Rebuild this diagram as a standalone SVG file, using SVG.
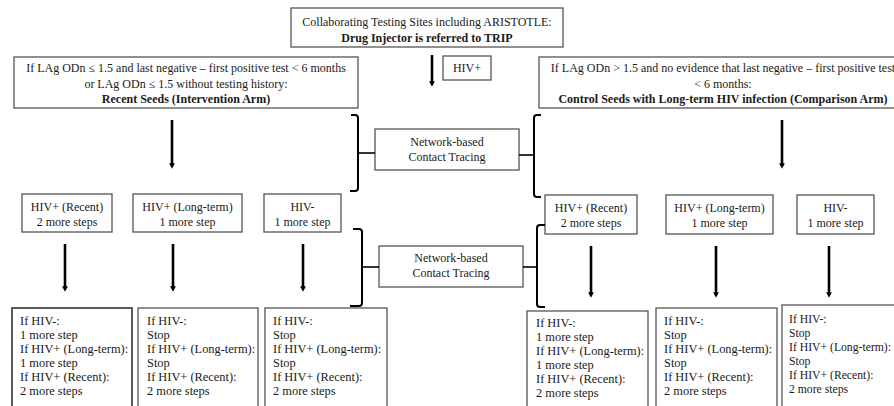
<svg xmlns="http://www.w3.org/2000/svg" width="894" height="406" viewBox="0 0 894 406">
<defs>
<marker id="ah" viewBox="0 0 6 6" refX="3" refY="3" markerWidth="2.2" markerHeight="2.2" orient="auto"><path d="M0,0 L6,3 L0,6 z" fill="#000"/></marker>
<style>
.box{fill:#fff;stroke:#555;stroke-width:1.3}
.t{font-family:"Liberation Serif","Times New Roman",serif;font-size:12px;fill:#1a1a1a}
.c{text-anchor:middle}
.b{font-weight:bold}
.s{font-size:12.4px}
.n{font-size:11.7px}
.arr{stroke:#000;stroke-width:2.6;fill:none;marker-end:url(#ah)}
.br{stroke:#000;stroke-width:2;fill:none}
.tk{stroke:#000;stroke-width:1.6;fill:none}
</style>
</defs>
<rect width="894" height="406" fill="#fff"/>
<g id="top">
<rect class="box" x="291" y="8" width="272" height="39"/>
<text class="t c" x="427" y="26">Collaborating Testing Sites including ARISTOTLE:</text>
<text class="t c b" x="427" y="42">Drug Injector is referred to TRIP</text>
</g>
<g id="hivpos">
<rect class="box" x="443" y="56" width="48" height="24"/>
<text class="t c" x="467" y="72">HIV+</text>
</g>
<g id="recent-seeds">
<rect class="box" x="14" y="57" width="344" height="51"/>
<text class="t c" x="186" y="72">If LAg ODn ≤ 1.5 and last negative – first positive test &lt; 6 months</text>
<text class="t c" x="186" y="88">or LAg ODn ≤ 1.5 without testing history:</text>
<text class="t c b" x="186" y="103">Recent Seeds (Intervention Arm)</text>
</g>
<g id="control-seeds">
<rect class="box" x="539" y="57" width="370" height="51"/>
<text class="t c" x="723" y="72">If LAg ODn &gt; 1.5 and no evidence that last negative – first positive test</text>
<text class="t c" x="723" y="88">&lt; 6 months:</text>
<text class="t c b" x="723" y="103">Control Seeds with Long-term HIV infection (Comparison Arm)</text>
</g>
<g id="nct1">
<rect class="box" x="375" y="129" width="144" height="41"/>
<text class="t c" x="447" y="146">Network-based</text>
<text class="t c" x="447" y="161">Contact Tracing</text>
</g>
<g id="nct2">
<rect class="box" x="379" y="246" width="144" height="41"/>
<text class="t c" x="451" y="262">Network-based</text>
<text class="t c" x="451" y="277">Contact Tracing</text>
</g>
<g id="l-recent">
<rect class="box" x="22" y="194" width="90" height="38"/>
<text class="t c" x="67" y="211">HIV+ (Recent)</text>
<text class="t c" x="67" y="226">2 more steps</text>
</g>
<g id="l-long">
<rect class="box" x="133" y="194" width="109" height="38"/>
<text class="t c" x="187.5" y="211">HIV+ (Long-term)</text>
<text class="t c" x="187.5" y="226">1 more step</text>
</g>
<g id="l-neg">
<rect class="box" x="264" y="194" width="77" height="38"/>
<text class="t c" x="302.5" y="211">HIV-</text>
<text class="t c" x="302.5" y="226">1 more step</text>
</g>
<g id="r-recent">
<rect class="box" x="545" y="195" width="92" height="39"/>
<text class="t c" x="591" y="212">HIV+ (Recent)</text>
<text class="t c" x="591" y="227">2 more steps</text>
</g>
<g id="r-long">
<rect class="box" x="666" y="195" width="107" height="39"/>
<text class="t c" x="719.5" y="212">HIV+ (Long-term)</text>
<text class="t c" x="719.5" y="227">1 more step</text>
</g>
<g id="r-neg">
<rect class="box" x="797" y="195" width="77" height="39"/>
<text class="t c" x="835.5" y="212">HIV-</text>
<text class="t c" x="835.5" y="227">1 more step</text>
</g>
<g id="l-out1">
<rect class="box" x="12" y="308" width="120" height="110" style="stroke:#333;stroke-width:1.6"/>
<text class="t s" x="20" y="325">If HIV-:</text>
<text class="t s" x="20" y="339">1 more step</text>
<text class="t s" x="20" y="353">If HIV+ (Long-term):</text>
<text class="t s" x="20" y="367">1 more step</text>
<text class="t s" x="20" y="381">If HIV+ (Recent):</text>
<text class="t s" x="20" y="395">2 more steps</text>
</g>
<g id="l-out2">
<rect class="box" x="138" y="308" width="120" height="110"/>
<text class="t s" x="147" y="325">If HIV-:</text>
<text class="t s" x="147" y="339">Stop</text>
<text class="t s" x="147" y="353">If HIV+ (Long-term):</text>
<text class="t s" x="147" y="367">Stop</text>
<text class="t s" x="147" y="381">If HIV+ (Recent):</text>
<text class="t s" x="147" y="395">2 more steps</text>
</g>
<g id="l-out3">
<rect class="box" x="265" y="308" width="122" height="110"/>
<text class="t s" x="273" y="325">If HIV-:</text>
<text class="t s" x="273" y="339">Stop</text>
<text class="t s" x="273" y="353">If HIV+ (Long-term):</text>
<text class="t s" x="273" y="367">Stop</text>
<text class="t s" x="273" y="381">If HIV+ (Recent):</text>
<text class="t s" x="273" y="395">2 more steps</text>
</g>
<g id="r-out1">
<rect class="box" x="527" y="311" width="121" height="110"/>
<text class="t s" x="536" y="327">If HIV-:</text>
<text class="t s" x="536" y="341">1 more step</text>
<text class="t s" x="536" y="355">If HIV+ (Long-term):</text>
<text class="t s" x="536" y="369">1 more step</text>
<text class="t s" x="536" y="383">If HIV+ (Recent):</text>
<text class="t s" x="536" y="397">2 more steps</text>
</g>
<g id="r-out2">
<rect class="box" x="656" y="308" width="121" height="110"/>
<text class="t s" x="664" y="325">If HIV-:</text>
<text class="t s" x="664" y="339">Stop</text>
<text class="t s" x="664" y="353">If HIV+ (Long-term):</text>
<text class="t s" x="664" y="367">Stop</text>
<text class="t s" x="664" y="381">If HIV+ (Recent):</text>
<text class="t s" x="664" y="395">2 more steps</text>
</g>
<g id="r-out3">
<rect class="box" x="782" y="305" width="130" height="110"/>
<text class="t n" x="789" y="323">If HIV-:</text>
<text class="t n" x="789" y="337">Stop</text>
<text class="t n" x="789" y="351">If HIV+ (Long-term):</text>
<text class="t n" x="789" y="365">Stop</text>
<text class="t n" x="789" y="379">If HIV+ (Recent):</text>
<text class="t n" x="789" y="393">2 more steps</text>
</g>
<g id="connectors">
<line class="arr" x1="432" y1="55" x2="432" y2="84"/>
<line class="arr" x1="172" y1="120" x2="172" y2="166"/>
<line class="arr" x1="782" y1="120" x2="782" y2="166"/>
<line class="arr" x1="65" y1="244" x2="65" y2="289"/>
<line class="arr" x1="173" y1="244" x2="173" y2="289"/>
<line class="arr" x1="303" y1="244" x2="303" y2="289"/>
<line class="arr" x1="591" y1="246" x2="591" y2="295"/>
<line class="arr" x1="716" y1="246" x2="716" y2="295"/>
<line class="arr" x1="829" y1="246" x2="829" y2="295"/>
<path class="br" d="M351,115 L355,115 Q358,115 358,118 L358,188 Q358,191 355,191 L350,191"/>
<path class="tk" d="M358,153 L375,153"/>
<path class="br" d="M541,115 L537,115 Q534,115 534,118 L534,194 Q534,197 537,197 L541,197"/>
<path class="tk" d="M519,155 L534,155"/>
<path class="br" d="M353,229 L359,229 Q362,229 362,232 L362,303 Q362,306 359,306 L350,306"/>
<path class="tk" d="M362,267 L379,267"/>
<path class="br" d="M545,225 L540,225 Q537,225 537,228 L537,304 Q537,307 540,307 L545,307"/>
<path class="tk" d="M523,267 L537,267"/>
</g>
</svg>
